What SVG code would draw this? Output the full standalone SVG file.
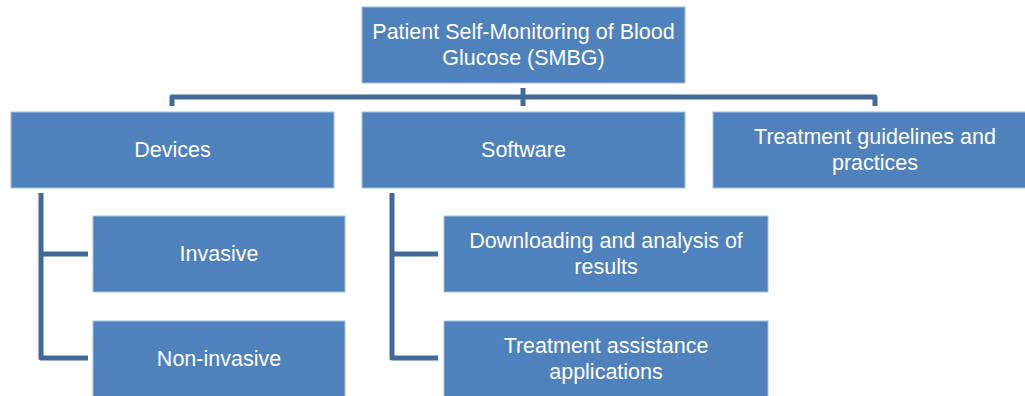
<svg xmlns="http://www.w3.org/2000/svg" width="1025" height="396" viewBox="0 0 1025 396">
  <style>
    .box { fill: #4F81BD; stroke: #A9C0DE; stroke-width: 1; }
    .lbl { fill: #FFFFFF; font-family: "Liberation Sans", Arial, sans-serif; font-size: 21.5px; text-anchor: middle; }
    .con { fill: none; stroke: #41699B; stroke-width: 5; stroke-linejoin: round; }
  </style>
  <rect width="1025" height="396" fill="#FFFFFF"/>

  <!-- connectors -->
  <g id="connectors">
    <path class="con" d="M172,106 V97 H875 V106"/>
    <path class="con" d="M523,88 V106"/>
    <path class="con" d="M41,193 V358 H88"/>
    <path class="con" d="M41,254 H88"/>
    <path class="con" d="M392,193 V358 H438"/>
    <path class="con" d="M392,254 H438"/>
  </g>

  <g id="smbg">
    <rect class="box" x="362" y="7" width="323" height="76"/>
    <text class="lbl" x="523.5" y="39">Patient Self-Monitoring of Blood</text>
    <text class="lbl" x="523.5" y="65">Glucose (SMBG)</text>
  </g>

  <g id="devices">
    <rect class="box" x="11" y="112" width="323" height="76"/>
    <text class="lbl" x="172.5" y="157">Devices</text>
  </g>

  <g id="software">
    <rect class="box" x="362" y="112" width="323" height="76"/>
    <text class="lbl" x="523.5" y="157">Software</text>
  </g>

  <g id="guidelines">
    <rect class="box" x="713" y="112" width="313" height="76"/>
    <text class="lbl" x="875" y="144">Treatment guidelines and</text>
    <text class="lbl" x="875" y="170">practices</text>
  </g>

  <g id="invasive">
    <rect class="box" x="93" y="216" width="252" height="76"/>
    <text class="lbl" x="219" y="261">Invasive</text>
  </g>

  <g id="non-invasive">
    <rect class="box" x="93" y="321" width="252" height="76"/>
    <text class="lbl" x="219" y="366">Non-invasive</text>
  </g>

  <g id="downloading">
    <rect class="box" x="444" y="216" width="324" height="76"/>
    <text class="lbl" x="606" y="248">Downloading and analysis of</text>
    <text class="lbl" x="606" y="274">results</text>
  </g>

  <g id="assistance">
    <rect class="box" x="444" y="321" width="324" height="76"/>
    <text class="lbl" x="606" y="353">Treatment assistance</text>
    <text class="lbl" x="606" y="379">applications</text>
  </g>
</svg>
